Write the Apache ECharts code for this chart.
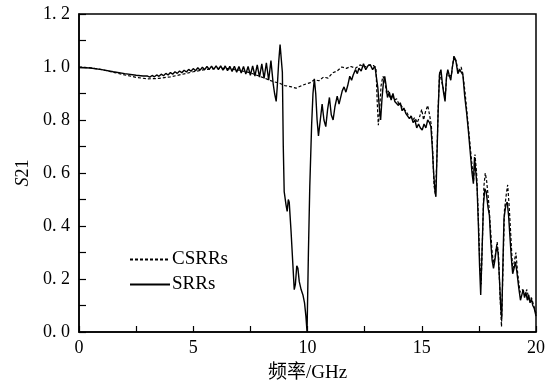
<!DOCTYPE html>
<html>
<head>
<meta charset="utf-8">
<script src="https://cdn.jsdelivr.net/npm/echarts@6/dist/echarts.min.js"></script>
<style>
  html, body { margin: 0; padding: 0; background: #fff; }
  #chart { width: 556px; height: 389px; }
</style>
</head>
<body>
<div id="chart"></div>
<script>
// 坐标轴刻度
const xTicks = [0, 5, 10, 15, 20]
const yTicks = [0, 0.2, 0.4, 0.6, 0.8, 1.0, 1.2]

// SRRs 曲线 (频率 GHz, S21)
const srrFreq = [
  0, 0.5, 1.0, 1.5, 2.0, 2.5, 2.8, 3.0,
  3.1, 3.2, 3.3, 3.4, 3.5, 3.6, 3.7, 3.8, 3.9, 4.0,
  4.1, 4.2, 4.3, 4.4, 4.5, 4.6, 4.7, 4.8, 4.9, 5.0,
  5.1, 5.2, 5.3, 5.4, 5.5, 5.6, 5.7, 5.8, 5.9, 6.0,
  6.1, 6.2, 6.3, 6.4, 6.5, 6.6, 6.7, 6.8, 6.9, 7.0,
  7.1, 7.2, 7.3, 7.4, 7.5, 7.6, 7.7, 7.8, 7.9, 8.0,
  8.1, 8.2, 8.3, 8.4, 8.5, 8.56, 8.63, 8.68, 8.74, 8.8,
  8.85, 8.9, 8.94, 8.98, 9.06, 9.11, 9.16, 9.2, 9.28, 9.35,
  9.42, 9.47, 9.53, 9.58, 9.64, 9.72, 9.8, 9.87, 9.93, 9.98,
  10.04, 10.1, 10.18, 10.24, 10.3, 10.36, 10.42, 10.48, 10.56, 10.64,
  10.72, 10.8, 10.88, 10.96, 11.04, 11.12, 11.2, 11.3, 11.38, 11.45,
  11.52, 11.6, 11.68, 11.76, 11.85, 11.93, 12.0, 12.1, 12.18, 12.25,
  12.35, 12.45, 12.55, 12.65, 12.75, 12.85, 12.95, 13.02, 13.08, 13.14,
  13.2, 13.26, 13.32, 13.38, 13.44, 13.5, 13.58, 13.66, 13.74, 13.82,
  13.9, 13.98, 14.06, 14.14, 14.22, 14.3, 14.38, 14.46, 14.54, 14.62,
  14.7, 14.78, 14.86, 14.94, 15.02, 15.1, 15.18, 15.26, 15.34, 15.4,
  15.46, 15.52, 15.58, 15.62, 15.67, 15.72, 15.78, 15.84, 15.9, 15.96,
  16.02, 16.08, 16.14, 16.2, 16.27, 16.34, 16.42, 16.5, 16.58, 16.66,
  16.74, 16.8, 16.88, 16.96, 17.04, 17.12, 17.2, 17.26, 17.31, 17.36,
  17.42, 17.48, 17.53, 17.58, 17.63, 17.7, 17.76, 17.82, 17.9, 17.96,
  18.02, 18.08, 18.14, 18.2, 18.28, 18.34, 18.4, 18.46, 18.5, 18.55,
  18.6, 18.68, 18.74, 18.8, 18.86, 18.92, 18.98, 19.04, 19.1, 19.16,
  19.24, 19.32, 19.38, 19.44, 19.5, 19.56, 19.62, 19.68, 19.74, 19.8,
  19.86, 19.92, 20.0
]
const srrVal = [
  0.998, 0.996, 0.990, 0.982, 0.975, 0.969, 0.966, 0.966,
  0.962, 0.968, 0.963, 0.970, 0.965, 0.973, 0.967, 0.976, 0.970, 0.979,
  0.973, 0.982, 0.976, 0.985, 0.978, 0.988, 0.981, 0.991, 0.984, 0.994,
  0.986, 0.997, 0.988, 0.999, 0.990, 1.002, 0.991, 1.003, 0.991, 1.004,
  0.990, 1.004, 0.988, 1.004, 0.986, 1.003, 0.983, 1.003, 0.980, 1.002,
  0.977, 1.002, 0.973, 1.002, 0.969, 1.004, 0.966, 1.008, 0.962, 1.012,
  0.957, 1.016, 0.950, 1.024, 0.935, 0.900, 0.870, 0.930, 1.020, 1.085,
  1.090, 0.980, 0.700, 0.530, 0.480, 0.455, 0.500, 0.490, 0.380, 0.270,
  0.160, 0.180, 0.250, 0.240, 0.190, 0.160, 0.140, 0.110, 0.060, 0.000,
  0.300, 0.550, 0.780, 0.900, 0.955, 0.900, 0.800, 0.740, 0.800, 0.860,
  0.800, 0.775, 0.840, 0.885, 0.820, 0.800, 0.850, 0.890, 0.860, 0.865,
  0.910, 0.925, 0.905, 0.930, 0.965, 0.950, 0.970, 0.990, 0.975, 0.995,
  0.985, 1.012, 0.990, 1.005, 1.008, 0.990, 1.003, 1.000, 0.920, 0.850,
  0.800, 0.880, 0.940, 0.965, 0.930, 0.885, 0.905, 0.875, 0.900, 0.870,
  0.875, 0.855, 0.865, 0.835, 0.845, 0.825, 0.830, 0.805, 0.815, 0.790,
  0.800, 0.770, 0.785, 0.770, 0.762, 0.785, 0.770, 0.800, 0.790, 0.775,
  0.700, 0.600, 0.530, 0.510, 0.680, 0.840, 0.975, 0.990, 0.940, 0.900,
  0.870, 0.960, 0.990, 0.970, 0.950, 1.000, 1.040, 1.020, 0.975, 0.990,
  0.995, 0.970, 0.890, 0.830, 0.760, 0.680, 0.600, 0.560, 0.660, 0.655,
  0.550, 0.400, 0.250, 0.140, 0.280, 0.480, 0.540, 0.530, 0.470, 0.440,
  0.340, 0.270, 0.240, 0.270, 0.325, 0.300, 0.200, 0.090, 0.050, 0.250,
  0.430, 0.480, 0.490, 0.440, 0.360, 0.280, 0.220, 0.240, 0.265, 0.230,
  0.170, 0.120, 0.140, 0.160, 0.130, 0.150, 0.120, 0.140, 0.110, 0.125,
  0.100, 0.090, 0.060
]

// CSRRs 曲线 (频率 GHz, S21)
const csrrFreq = [
  0, 0.5, 1.0, 1.5, 2.0, 2.5, 3.0, 3.5, 4.0, 4.5,
  5.0, 5.5, 6.0, 6.5, 7.0, 7.5, 8.0, 8.5, 8.8, 9.0,
  9.3, 9.5, 9.7, 9.9, 10.1, 10.3, 10.5, 10.7, 10.9, 11.1,
  11.3, 11.5, 11.7, 11.9, 12.1, 12.3, 12.5, 12.7, 12.9, 13.0,
  13.05, 13.1, 13.15, 13.22, 13.3, 13.38, 13.46, 13.54, 13.62, 13.7,
  13.8, 13.9, 14.0, 14.1, 14.2, 14.3, 14.4, 14.5, 14.6, 14.7,
  14.8, 14.9, 15.0, 15.08, 15.16, 15.26, 15.34, 15.42, 15.48, 15.54,
  15.6, 15.66, 15.72, 15.78, 15.86, 15.94, 16.02, 16.1, 16.2, 16.3,
  16.4, 16.5, 16.6, 16.72, 16.8, 16.9, 17.0, 17.1, 17.2, 17.27,
  17.33, 17.4, 17.47, 17.54, 17.6, 17.66, 17.72, 17.78, 17.84, 17.92,
  18.0, 18.08, 18.14, 18.22, 18.3, 18.36, 18.43, 18.49, 18.55, 18.62,
  18.7, 18.76, 18.83, 18.9, 18.98, 19.06, 19.12, 19.2, 19.3, 19.4,
  19.5, 19.6, 19.7, 19.8, 19.9, 20.0
]
const csrrVal = [
  1.000, 0.997, 0.990, 0.980, 0.970, 0.961, 0.955, 0.957, 0.963, 0.972,
  0.982, 0.990, 0.995, 0.994, 0.988, 0.978, 0.962, 0.945, 0.938, 0.930,
  0.925, 0.920, 0.928, 0.935, 0.940, 0.952, 0.948, 0.962, 0.958, 0.978,
  0.985, 1.000, 0.995, 1.002, 0.995, 1.008, 1.000, 1.008, 1.005, 0.990,
  0.870, 0.780, 0.830, 0.930, 0.965, 0.950, 0.900, 0.910, 0.880, 0.895,
  0.875, 0.880, 0.860, 0.855, 0.840, 0.835, 0.820, 0.815, 0.800, 0.810,
  0.790, 0.810, 0.840, 0.800, 0.830, 0.855, 0.820, 0.780, 0.680, 0.550,
  0.520, 0.650, 0.850, 0.980, 0.985, 0.920, 0.880, 0.975, 0.965, 0.970,
  1.040, 1.025, 0.980, 1.000, 0.975, 0.900, 0.810, 0.720, 0.630, 0.570,
  0.670, 0.600, 0.450, 0.260, 0.180, 0.360, 0.550, 0.600, 0.570, 0.500,
  0.400, 0.300, 0.260, 0.290, 0.340, 0.290, 0.130, 0.020, 0.220, 0.460,
  0.520, 0.555, 0.470, 0.360, 0.230, 0.270, 0.300, 0.220, 0.150, 0.160,
  0.140, 0.160, 0.120, 0.130, 0.100, 0.070
]

const serif = '"Liberation Serif", "Noto Sans CJK SC", serif'

const chart = echarts.init(document.getElementById('chart'))
chart.setOption({
  animation: false,
  backgroundColor: '#fff',
  grid: {
    left: 79, right: 20, top: 14, bottom: 57,
    show: true, borderColor: '#000', borderWidth: 1.5
  },
  legend: {
    orient: 'vertical',
    left: 124, top: 245,
    itemWidth: 40, itemHeight: 14, itemGap: 6,
    itemStyle: {opacity: 0},
    textStyle: {fontFamily: serif, fontSize: 19, color: '#000', padding: [0, 0, 0, -3]},
    data: ['CSRRs', 'SRRs']
  },
  xAxis: {
    type: 'value',
    min: xTicks[0], max: xTicks[xTicks.length - 1], interval: 5,
    name: '频率/GHz', nameLocation: 'middle', nameGap: 32,
    nameTextStyle: {fontFamily: serif, fontSize: 19, color: '#000'},
    axisLine: {lineStyle: {color: '#000', width: 1.5}},
    axisTick: {inside: true, length: 6, lineStyle: {color: '#000', width: 1.2}},
    minorTick: {show: true, splitNumber: 2, length: 6, lineStyle: {color: '#000', width: 1.2}},
    axisLabel: {fontFamily: serif, fontSize: 18, color: '#000', margin: 7},
    splitLine: {show: false}
  },
  yAxis: {
    type: 'value',
    min: yTicks[0], max: yTicks[yTicks.length - 1], interval: 0.2,
    name: '{i|S}{n|21}', nameLocation: 'middle', nameGap: 44, nameRotate: 90,
    nameTextStyle: {
      rich: {
        i: {fontFamily: serif, fontSize: 18, fontStyle: 'italic', color: '#000'},
        n: {fontFamily: serif, fontSize: 18, color: '#000'}
      }
    },
    axisLine: {show: true, lineStyle: {color: '#000', width: 1.5}},
    axisTick: {show: true, inside: true, length: 7, lineStyle: {color: '#000', width: 1.2}},
    minorTick: {show: true, splitNumber: 2, length: 7, lineStyle: {color: '#000', width: 1.2}},
    axisLabel: {
      fontFamily: serif, fontSize: 18, color: '#000', margin: 9,
      formatter: v => v.toFixed(1).replace('.', '. ')
    },
    splitLine: {show: false}
  },
  series: [
    {
      name: 'CSRRs',
      type: 'line',
      showSymbol: false,
      symbol: 'none',
      lineStyle: {color: '#000', width: 1.2, type: [3, 2]},
      itemStyle: {color: '#000'},
      data: csrrFreq.map((f, i) => [f, csrrVal[i]]),
      z: 2
    },
    {
      name: 'SRRs',
      type: 'line',
      showSymbol: false,
      symbol: 'none',
      lineStyle: {color: '#000', width: 1.4},
      itemStyle: {color: '#000'},
      data: srrFreq.map((f, i) => [f, srrVal[i]]),
      z: 3
    }
  ]
})
</script>
</body>
</html>
